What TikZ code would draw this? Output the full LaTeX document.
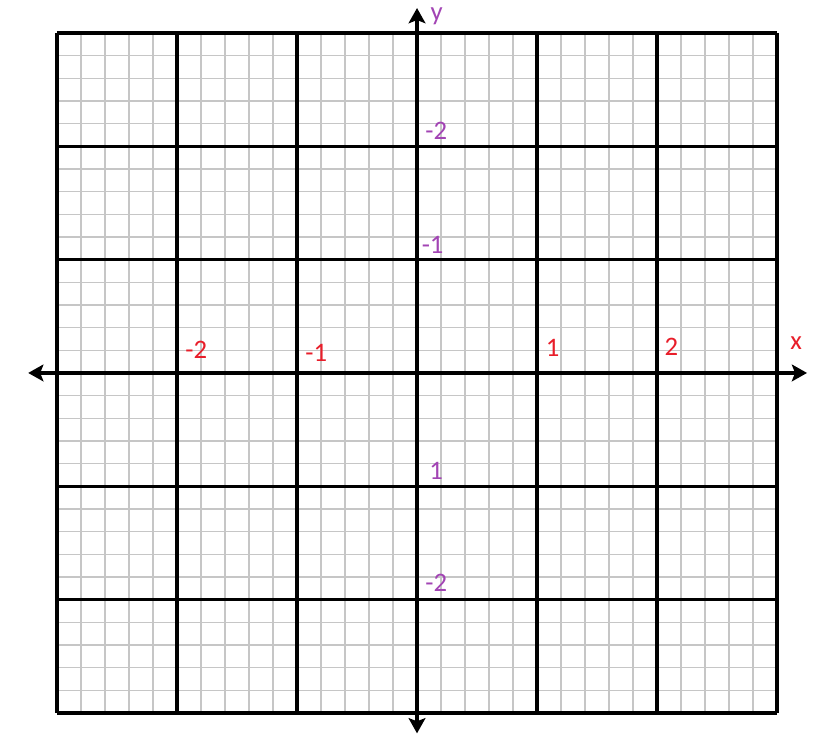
\documentclass[tikz,border=0pt]{standalone}
\usepackage{fontspec}
\setmainfont{Carlito}
\usepackage{tikz}
\usepackage{xcolor}
\usetikzlibrary{arrows.meta}
\definecolor{labred}{RGB}{232,30,42}
\definecolor{labpurple}{RGB}{162,68,180}

\begin{document}
\begin{tikzpicture}[x=3cm, y=2.833cm, font=\fontsize{19}{23}\selectfont,
  xlab/.style={text=labred, inner sep=0pt},
  ylab/.style={text=labpurple, inner sep=0pt},
  axis/.style={line width=2.9pt, -{Stealth[length=3.8mm, width=4.2mm, inset=0.8mm]}}]
\useasboundingbox (-3.475,-3.247) rectangle (3.483,3.291);
\draw[gray!45, line width=0.9pt, step=0.2] (-3,-3) grid (3,3);
\draw[black, line width=2.3pt, step=1] (-3,-3) grid (3,3);
\draw[axis] (0,0) -- (-3.24,0);
\draw[axis] (0,0) -- (3.25,0);
\draw[axis] (0,0) -- (0,3.22);
\draw[axis] (0,0) -- (0,-3.18);
% x axis labels
\node[xlab] (xm2) at (-1.84,0.20) {-2};
\node[xlab] (xm1) at (-0.84,0.18) {-1};
\node[xlab] (xp1) at (1.13,0.22) {1};
\node[xlab] (xp2) at (2.12,0.23) {2};
\node[xlab] (xname) at (3.16,0.26) {x};
% y axis labels (as printed)
\node[ylab] (ya) at (0.16,2.14) {-2};
\node[ylab] (yb) at (0.13,1.13) {-1};
\node[ylab] (yc) at (0.16,-0.86) {1};
\node[ylab] (yd) at (0.16,-1.85) {-2};
\node[ylab, anchor=base] (yname) at (0.163,3.11) {y};
\end{tikzpicture}
\end{document}
